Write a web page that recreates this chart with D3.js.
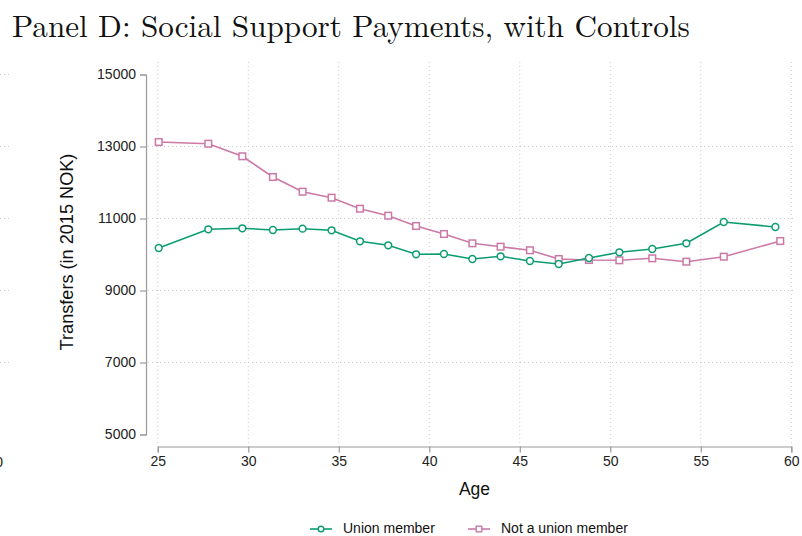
<!DOCTYPE html>
<html>
<head>
<meta charset="utf-8">
<script src="https://cdn.jsdelivr.net/npm/d3@7"></script>
<style>
  html, body { margin: 0; padding: 0; background: #ffffff; }
  svg { display: block; }
</style>
</head>
<body>
<svg id="chart" width="802" height="536"></svg>
<script>
// Age bins (x) and mean transfers in 2015 NOK (y)
const unionAge    = [25.05, 27.79, 29.67, 31.36, 33.0, 34.6, 36.17, 37.73, 39.27, 40.81, 42.38, 43.94, 45.56, 47.15, 48.82, 50.5, 52.32, 54.2, 56.27, 59.12];
const unionValues = [10180, 10700, 10728, 10680, 10717, 10672, 10367, 10256, 10006, 10014, 9875, 9950, 9819, 9736, 9903, 10061, 10153, 10311, 10903, 10764];
const nonUnionAge    = [25.05, 27.79, 29.67, 31.36, 33.0, 34.6, 36.17, 37.73, 39.27, 40.81, 42.38, 43.94, 45.56, 47.15, 48.82, 50.5, 52.32, 54.2, 56.27, 59.39];
const nonUnionValues = [13125, 13078, 12728, 12153, 11744, 11578, 11272, 11078, 10792, 10569, 10311, 10217, 10117, 9875, 9847, 9839, 9894, 9800, 9939, 10375];

const xTicks = [25, 30, 35, 40, 45, 50, 55, 60];
const yTicks = [5000, 7000, 9000, 11000, 13000, 15000];
const seriesNames = ["Union member", "Not a union member"];

const titleText = "Panel D: Social Support Payments, with Controls";
const xTitle = "Age";
const yTitle = "Transfers (in 2015 NOK)";

const colGreen = "#0b9c72";
const colPink = "#cc79a7";
const axisCol = "#9a9a9a";
const gridCol = "#c9c9c9";
const sans = "'Liberation Sans', Arial, Helvetica, sans-serif";

const svg = d3.select("#chart");

const x = d3.scaleLinear().domain([25, 60]).range([157.8, 791.3]);
const y = d3.scaleLinear().domain([5000, 15000]).range([434.5, 74.5]);

// Fragments of the neighbouring panel on the left edge
const neighbour = svg.append("g");
neighbour.selectAll("line")
  .data([7000, 9000, 11000, 13000, 15000])
  .join("line")
  .attr("x1", 0).attr("x2", 11)
  .attr("y1", d => y(d)).attr("y2", d => y(d))
  .attr("stroke", gridCol).attr("stroke-width", 1)
  .attr("stroke-dasharray", "1,3");
neighbour.append("text")
  .attr("x", 3).attr("y", 467)
  .attr("text-anchor", "end")
  .attr("font-family", sans).attr("font-size", 14)
  .attr("fill", "#222")
  .text("60");

// Title
const title = svg.append("text")
  .attr("x", 12).attr("y", 37)
  .attr("font-family", "'Latin Modern Roman', 'CMU Serif', 'Liberation Serif', 'Times New Roman', serif")
  .attr("font-size", 31)
  .attr("fill", "#111")
  .text(titleText);
{
  const w = title.node().getComputedTextLength();
  title.attr("font-size", 31 * 678 / w);
}

// Grid
const grid = svg.append("g");
grid.selectAll("line.v")
  .data(xTicks)
  .join("line")
  .attr("class", "v")
  .attr("x1", d => x(d)).attr("x2", d => x(d))
  .attr("y1", 62).attr("y2", 445)
  .attr("stroke", gridCol).attr("stroke-width", 1)
  .attr("stroke-dasharray", "1,3");
grid.selectAll("line.h")
  .data(yTicks.filter(d => d > 5000 && d < 15000))
  .join("line")
  .attr("class", "h")
  .attr("x1", 148).attr("x2", 794)
  .attr("y1", d => y(d)).attr("y2", d => y(d))
  .attr("stroke", gridCol).attr("stroke-width", 1)
  .attr("stroke-dasharray", "1,3");

// Y axis
const yAxis = svg.append("g")
  .attr("transform", "translate(146,0)")
  .call(d3.axisLeft(y).tickValues(yTicks).tickSize(6).tickPadding(4).tickFormat(d3.format("d")));
yAxis.select(".domain").attr("stroke", axisCol).attr("stroke-width", 1.2);
yAxis.selectAll(".tick line").attr("stroke", axisCol).attr("stroke-width", 1.2);
yAxis.selectAll(".tick text").attr("font-family", sans).attr("font-size", 14).attr("fill", "#222");

// X axis
const xAxis = svg.append("g")
  .attr("transform", "translate(0,446.5)")
  .call(d3.axisBottom(x).tickValues(xTicks).tickSize(6).tickPadding(4));
xAxis.select(".domain").attr("stroke", axisCol).attr("stroke-width", 1.2);
xAxis.selectAll(".tick line").attr("stroke", axisCol).attr("stroke-width", 1.2);
xAxis.selectAll(".tick text").attr("font-family", sans).attr("font-size", 14).attr("fill", "#222");

// Axis titles
svg.append("text")
  .attr("x", 474.5).attr("y", 495)
  .attr("text-anchor", "middle")
  .attr("font-family", sans).attr("font-size", 17.5)
  .attr("fill", "#111")
  .text(xTitle);
const yt = svg.append("text")
  .attr("transform", "translate(73,252) rotate(-90)")
  .attr("text-anchor", "middle")
  .attr("font-family", sans).attr("font-size", 17)
  .attr("fill", "#111")
  .text(yTitle);
{
  const w = yt.node().getComputedTextLength();
  yt.attr("font-size", 17 * 197 / w);
}

// Series
const unionData = unionAge.map((a, i) => ({ a, v: unionValues[i] }));
const nonUnionData = nonUnionAge.map((a, i) => ({ a, v: nonUnionValues[i] }));
const line = d3.line().x(d => x(d.a)).y(d => y(d.v));

svg.append("path")
  .datum(nonUnionData)
  .attr("d", line)
  .attr("fill", "none").attr("stroke", colPink).attr("stroke-width", 1.6);
svg.append("path")
  .datum(unionData)
  .attr("d", line)
  .attr("fill", "none").attr("stroke", colGreen).attr("stroke-width", 1.6);

svg.append("g").selectAll("rect")
  .data(nonUnionData)
  .join("rect")
  .attr("x", d => x(d.a) - 3.3).attr("y", d => y(d.v) - 3.3)
  .attr("width", 6.6).attr("height", 6.6)
  .attr("fill", "#fff").attr("stroke", colPink).attr("stroke-width", 1.5);
svg.append("g").selectAll("circle")
  .data(unionData)
  .join("circle")
  .attr("cx", d => x(d.a)).attr("cy", d => y(d.v))
  .attr("r", 3.4)
  .attr("fill", "#fff").attr("stroke", colGreen).attr("stroke-width", 1.5);

// Legend
const legend = svg.append("g");
const items = [
  { name: seriesNames[0], col: colGreen, x0: 310, shape: "circle" },
  { name: seriesNames[1], col: colPink, x0: 468, shape: "square" }
];
items.forEach(it => {
  const ly = 529;
  legend.append("line")
    .attr("x1", it.x0).attr("x2", it.x0 + 22)
    .attr("y1", ly).attr("y2", ly)
    .attr("stroke", it.col).attr("stroke-width", 1.6);
  if (it.shape === "circle") {
    legend.append("circle")
      .attr("cx", it.x0 + 11).attr("cy", ly).attr("r", 2.8)
      .attr("fill", "#fff").attr("stroke", it.col).attr("stroke-width", 1.4);
  } else {
    legend.append("rect")
      .attr("x", it.x0 + 11 - 2.8).attr("y", ly - 2.8)
      .attr("width", 5.6).attr("height", 5.6)
      .attr("fill", "#fff").attr("stroke", it.col).attr("stroke-width", 1.4);
  }
  legend.append("text")
    .attr("x", it.x0 + 33).attr("y", 533)
    .attr("font-family", sans).attr("font-size", 14)
    .attr("fill", "#111")
    .text(it.name);
});
</script>
</body>
</html>
